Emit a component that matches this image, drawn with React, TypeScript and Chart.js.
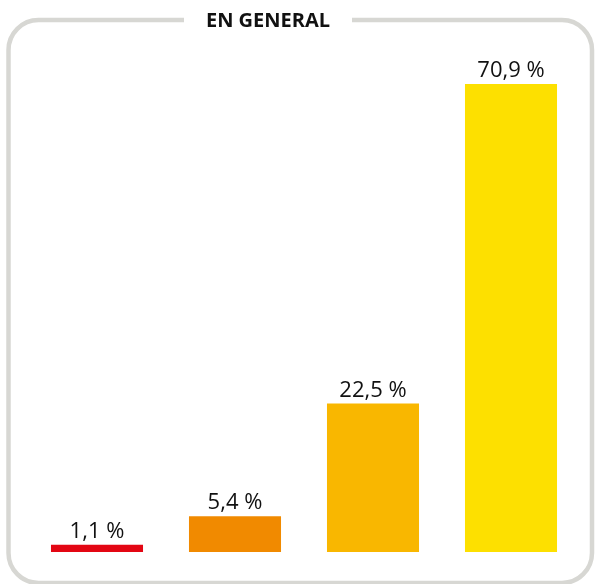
import React, { useEffect, useRef } from "react";
import { Chart, registerables } from "chart.js";

Chart.register(...registerables);

const categories = ["A", "B", "C", "D"];
const values = [1.1, 5.4, 22.5, 70.9];
const barColors = ["#e30613", "#f18a00", "#f9b700", "#fde000"];
const titleText = "EN GENERAL";

const framePlugin = {
  id: "frame",
  beforeDraw(chart: any) {
    const ctx = chart.ctx;
    ctx.save();
    const x0 = 8.5, y0 = 20, x1 = 592, y1 = 583, r = 30;
    const tcx = 268;
    const gapL = 184;
    const gapR = 352;
    ctx.strokeStyle = "#d7d7d3";
    ctx.lineWidth = 4.5;
    ctx.beginPath();
    ctx.moveTo(gapR, y0);
    ctx.lineTo(x1 - r, y0);
    ctx.arcTo(x1, y0, x1, y0 + r, r);
    ctx.lineTo(x1, y1 - r);
    ctx.arcTo(x1, y1, x1 - r, y1, r);
    ctx.lineTo(x0 + r, y1);
    ctx.arcTo(x0, y1, x0, y1 - r, r);
    ctx.lineTo(x0, y0 + r);
    ctx.arcTo(x0, y0, x0 + r, y0, r);
    ctx.lineTo(gapL, y0);
    ctx.stroke();
    ctx.font = "bold 20px 'Open Sans'";
    ctx.fillStyle = "#111111";
    ctx.textAlign = "center";
    ctx.textBaseline = "alphabetic";
    ctx.fillText(titleText, tcx, 26.5);
    ctx.restore();
  },
};

const labelPlugin = {
  id: "barLabels",
  afterDatasetsDraw(chart: any) {
    const ctx = chart.ctx;
    const meta = chart.getDatasetMeta(0);
    ctx.save();
    ctx.font = "22px 'Open Sans'";
    ctx.fillStyle = "#111111";
    ctx.textAlign = "center";
    ctx.textBaseline = "alphabetic";
    meta.data.forEach((bar: any, i: number) => {
      const txt = values[i].toFixed(1).replace(".", ",") + " %";
      ctx.fillText(txt, bar.x, bar.y - 7);
    });
    ctx.restore();
  },
};

export default function App() {
  const ref = useRef<HTMLCanvasElement>(null);
  useEffect(() => {
    if (!ref.current) return;
    const chart = new Chart(ref.current, {
      type: "bar",
      data: {
        labels: categories,
        datasets: [
          {
            data: values,
            backgroundColor: barColors,
            borderWidth: 0,
            categoryPercentage: 1,
            barPercentage: 0.667,
          },
        ],
      },
      options: {
        animation: false,
        responsive: false,
        maintainAspectRatio: false,
        layout: { padding: { left: 28, right: 15, top: 57, bottom: 32 } },
        plugins: {
          legend: { display: false },
          title: { display: false },
          tooltip: { enabled: false },
        },
        scales: {
          x: { display: false },
          y: { display: false, min: 0, max: 75 },
        },
      },
      plugins: [framePlugin, labelPlugin],
    });
    return () => chart.destroy();
  }, []);
  return (
    <div style={{ position: "absolute", left: 0, top: 0, width: 595, height: 584, background: "#fff" }}>
      <canvas ref={ref} width={595} height={584} style={{ display: "block" }} />
    </div>
  );
}
